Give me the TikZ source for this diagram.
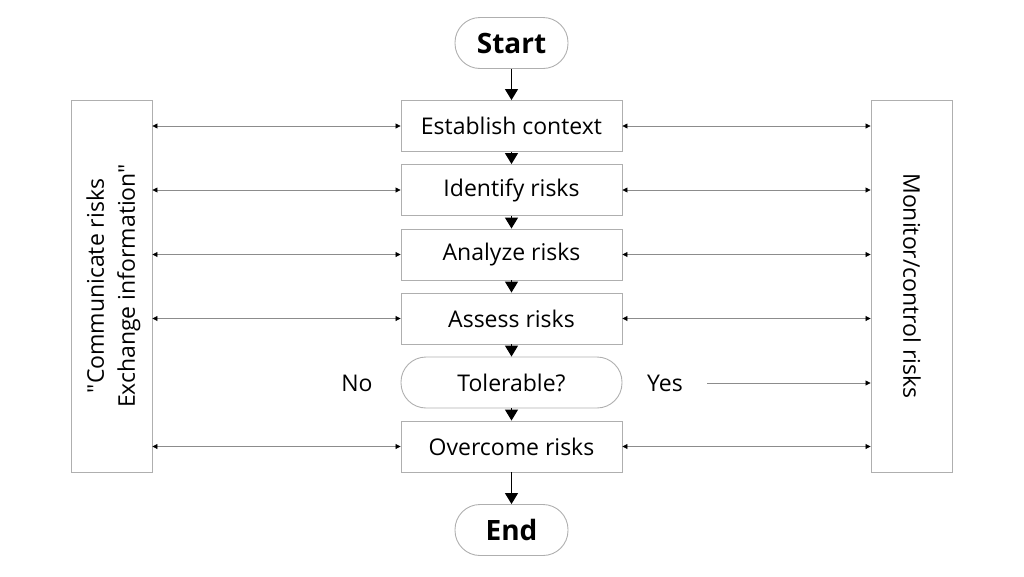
\documentclass[tikz,border=0pt]{standalone}
\usepackage{fontspec}
\setmainfont{Open Sans}[Ligatures=TeXOff]
\usetikzlibrary{arrows.meta}
\definecolor{boxgray}{RGB}{175,175,175}
\definecolor{linegray}{RGB}{140,140,140}
\tikzset{
  txt/.style={font=\fontsize{23}{31}\selectfont},
  stepbox/.style={draw=boxgray, line width=0.9pt, minimum width=221pt, minimum height=51pt, inner sep=0pt, txt},
  pill/.style={draw=boxgray, line width=0.9pt, rounded corners=25pt, minimum height=51pt, inner sep=0pt},
  sidebox/.style={draw=boxgray, line width=0.9pt, minimum width=81pt, minimum height=372pt, inner sep=0pt},
  flow/.style={line width=1.2pt, -{Triangle[width=13pt,length=11pt]}},
  link/.style={draw=linegray, line width=0.8pt, {Triangle[width=5pt,length=5pt,color=black]}-{Triangle[width=5pt,length=5pt,color=black]}},
  onelink/.style={draw=linegray, line width=0.8pt, -{Triangle[width=5pt,length=5pt,color=black]}},
  lbl/.style={txt, inner sep=0pt}
}
\begin{document}
\begin{tikzpicture}[x=1pt,y=-1pt]
\useasboundingbox (0,0) rectangle (1024,576);
\node[pill, minimum width=113pt, font=\fontsize{28}{32}\selectfont\bfseries] (start) at (511.5,43) {Start};
\node[stepbox] (est) at (511.5,126) {Establish context};
\node[stepbox] (ident) at (511.5,190) {Identify risks};
\node[stepbox] (anal) at (511.5,254.5) {Analyze risks};
\node[stepbox] (assess) at (511.5,318.5) {Assess risks};
\node[pill, minimum width=221pt, txt] (tol) at (511.5,382.5) {Tolerable?};
\node[stepbox] (over) at (511.5,446.5) {Overcome risks};
\node[pill, minimum width=113pt, font=\fontsize{28}{32}\selectfont\bfseries] (end) at (511.5,530) {End};
\node[sidebox] (comm) at (111.5,286) {};
\node[rotate=90, align=center, txt] (commtxt) at (113.5,286) {"Communicate risks\\Exchange information"};
\node[sidebox] (mon) at (911.5,286) {};
\node[rotate=-90, txt] (montxt) at (912,286) {Monitor/control risks};
\node[lbl] (no) at (357,383) {No};
\node[lbl] (yes) at (665,383) {Yes};
\coordinate (yesstart) at (707,383);
% vertical flow
\draw[flow] (start) -- (est);
\draw[flow] (est) -- (ident);
\draw[flow] (ident) -- (anal);
\draw[flow] (anal) -- (assess);
\draw[flow] (assess) -- (tol);
\draw[flow] (tol) -- (over);
\draw[flow] (over) -- (end);
% side links
\foreach \n in {est,ident,anal,assess,over}{
  \draw[link] (comm.east |- \n.west) -- (\n.west);
  \draw[link] (\n.east) -- (mon.west |- \n.east);
}
\draw[onelink] (yesstart) -- (mon.west |- yesstart);
\end{tikzpicture}
\end{document}
